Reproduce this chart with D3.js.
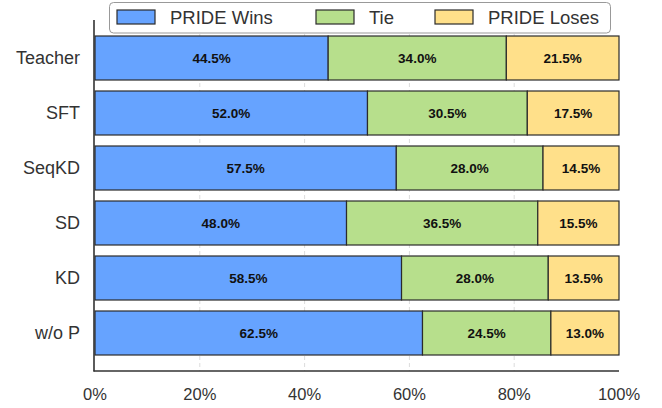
<!DOCTYPE html>
<html>
<head>
    <style type="text/css">
        body { margin: 0; padding: 0; background: #fff; }
        svg text { font-family: "Liberation Sans", Arial, sans-serif; }
    </style>
</head>
<body>
<svg id="chart" width="662" height="408"></svg>
<script src="https://cdnjs.cloudflare.com/ajax/libs/d3/7.8.5/d3.min.js"></script>
<script>

var categories = ["Teacher", "SFT", "SeqKD", "SD", "KD", "w/o P"];
var wins = [44.5, 52.0, 57.5, 48.0, 58.5, 62.5];
var ties = [34.0, 30.5, 28.0, 36.5, 28.0, 24.5];
var loses = [21.5, 17.5, 14.5, 15.5, 13.5, 13.0];
var seriesNames = ["PRIDE Wins", "Tie", "PRIDE Loses"];
var seriesColors = ["#66a3ff", "#b7df8c", "#ffe08a"];
var xTicks = [0, 20, 40, 60, 80, 100];

var svg = d3.select("#chart");
// note: "top" is window.top, so use other names
var plotL = 95, plotR = 619, plotT = 20, plotB = 371;

var x = d3.scaleLinear().domain([0, 100]).range([plotL, plotR]);
var y = d3.scaleBand().domain(categories).range([plotT + 16, plotB - 16])
    .paddingInner(0.2).paddingOuter(0.0);

// dashed vertical grid
svg.selectAll("line.grid")
    .data(xTicks.slice(1, -1))
    .enter().append("line")
    .attr("class", "grid")
    .attr("x1", function(d) { return x(d); })
    .attr("x2", function(d) { return x(d); })
    .attr("y1", plotT).attr("y2", plotB)
    .style("stroke", "#dcdcdc")
    .style("stroke-width", 1)
    .style("stroke-dasharray", "4,3");

var rows = categories.map(function(c, i) {
    return { cat: c, vals: [wins[i], ties[i], loses[i]] };
});

rows.forEach(function(r) {
    var start = 0;
    r.vals.forEach(function(v, j) {
        var g = svg.append("g");
        g.append("rect")
            .attr("x", x(start))
            .attr("y", y(r.cat))
            .attr("width", x(start + v) - x(start))
            .attr("height", y.bandwidth())
            .style("fill", seriesColors[j])
            .style("stroke", "#2b2b2b")
            .style("stroke-width", 1.2);
        g.append("text")
            .attr("x", x(start + v / 2))
            .attr("y", y(r.cat) + y.bandwidth() / 2)
            .attr("dy", "0.36em")
            .attr("text-anchor", "middle")
            .style("font-size", "13.5px")
            .style("font-weight", "bold")
            .style("fill", "#111")
            .text(v.toFixed(1) + "%");
        start += v;
    });
});

// y labels
svg.selectAll("text.ylab")
    .data(categories)
    .enter().append("text")
    .attr("class", "ylab")
    .attr("x", plotL - 15)
    .attr("y", function(d) { return y(d) + y.bandwidth() / 2; })
    .attr("dy", "0.36em")
    .attr("text-anchor", "end")
    .style("font-size", "18px")
    .style("fill", "#333")
    .text(function(d) { return d; });

// x labels
svg.selectAll("text.xlab")
    .data(xTicks)
    .enter().append("text")
    .attr("class", "xlab")
    .attr("x", function(d) { return x(d); })
    .attr("y", plotB + 23)
    .attr("dy", "0.36em")
    .attr("text-anchor", "middle")
    .style("font-size", "16.5px")
    .style("fill", "#333")
    .text(function(d) { return d + "%"; });

// spines
svg.append("line").attr("x1", plotL - 1).attr("x2", plotL - 1).attr("y1", plotT).attr("y2", plotB + 0.5)
    .style("stroke", "#333").style("stroke-width", 1.6);
svg.append("line").attr("x1", plotL - 1.5).attr("x2", plotR).attr("y1", plotB).attr("y2", plotB)
    .style("stroke", "#333").style("stroke-width", 1.6);

// legend
var leg = svg.append("g");
leg.append("rect")
    .attr("x", 109.5).attr("y", 2.5).attr("width", 501).attr("height", 30.5).attr("rx", 4)
    .style("fill", "#fff").style("stroke", "#999").style("stroke-width", 1);
var legX = [117, 316, 435];
seriesNames.forEach(function(n, i) {
    leg.append("rect")
        .attr("x", legX[i]).attr("y", 10).attr("width", 38).attr("height", 14)
        .style("fill", seriesColors[i]).style("stroke", "#2b2b2b").style("stroke-width", 1.2);
    leg.append("text")
        .attr("x", legX[i] + 53).attr("y", 17.5).attr("dy", "0.36em")
        .style("font-size", "18.5px").style("fill", "#333")
        .text(n);
});

</script>
</body>
</html>
